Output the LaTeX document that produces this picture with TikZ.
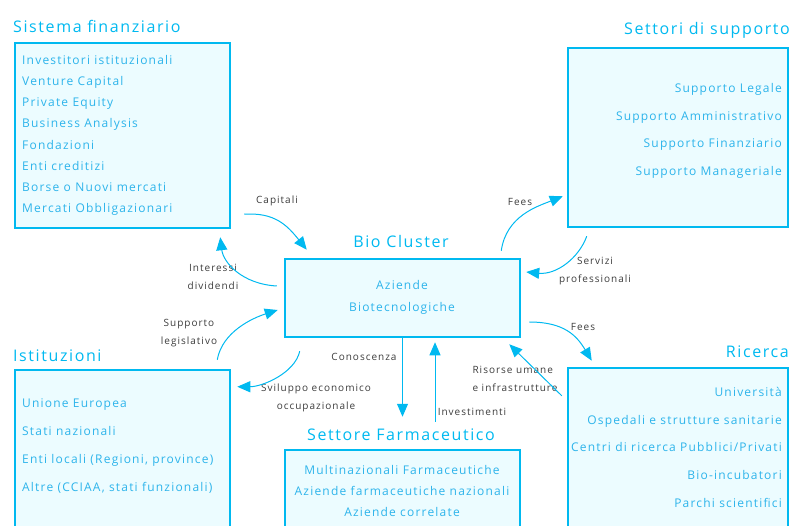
\documentclass[tikz,border=0pt]{standalone}
\usepackage{fontspec}
\setmainfont{Open Sans}[LetterSpace=10]
\usetikzlibrary{arrows.meta,calc}

\definecolor{clusterblue}{RGB}{0,185,240}
\definecolor{clusterfill}{RGB}{236,252,255}
\definecolor{itemblue}{RGB}{45,180,235}
\definecolor{labelgray}{RGB}{60,60,60}

\tikzset{
    box/.style={draw=clusterblue,line width=2.5pt,fill=clusterfill,rectangle,inner sep=0pt},
    boxtitle/.style={text=clusterblue,font=\fontsize{16}{19}\selectfont,inner sep=0pt},
    items/.style={text=itemblue,font=\fontsize{12}{#1}\selectfont,inner sep=0pt},
    items/.default=21,
    flowlabel/.style={text=labelgray,font=\fontsize{10}{18}\selectfont,align=center,inner sep=0pt},
    flow/.style={draw=clusterblue,line width=1pt,-{Triangle[length=13pt,width=11pt]}}
}

\begin{document}
\begin{tikzpicture}[x=1pt,y=-1pt]
    \useasboundingbox (0,0) rectangle (792,526);
    % boxes
    \node[box,minimum width=215pt,minimum height=185pt] (sf) at (122.5,135.5) {};
    \node[box,minimum width=220pt,minimum height=179pt] (ss) at (678,137.5) {};
    \node[box,minimum width=235pt,minimum height=78pt] (bc) at (402.5,298) {};
    \node[box,minimum width=215pt,minimum height=180pt] (ist) at (122.5,460) {};
    \node[box,minimum width=235pt,minimum height=100pt] (farm) at (402.5,500) {};
    \node[box,minimum width=220pt,minimum height=182pt] (ric) at (678,459) {};

    % titles
    \node[boxtitle,anchor=base west] (sfT) at (13,33) {Sistema finanziario};
    \node[boxtitle,anchor=base east] (ssT) at (790,35) {Settori di supporto};
    \node[boxtitle,anchor=base] (bcT) at (401,248) {Bio Cluster};
    \node[boxtitle,anchor=base west] (istT) at (13,361) {Istituzioni};
    \node[boxtitle,anchor=base] (farmT) at (401,440) {Settore Farmaceutico};
    \node[boxtitle,anchor=base east] (ricT) at (789,357) {Ricerca};

    % contents
    \node[items=21.2,anchor=north west,align=left] (sfL) at (22,55)
        {Investitori istituzionali\\Venture Capital\\Private Equity\\Business Analysis\\Fondazioni\\Enti creditizi\\Borse o Nuovi mercati\\Mercati Obbligazionari};
    \node[items=27.8,anchor=north east,align=right] (ssL) at (782,83)
        {Supporto Legale\\Supporto Amministrativo\\Supporto Finanziario\\Supporto Manageriale};
    \node[items=22,anchor=north,align=center] (bcL) at (402,280) {Aziende\\Biotecnologiche};
    \node[items=28,anchor=north west,align=left] (istL) at (22,398)
        {Unione Europea\\Stati nazionali\\Enti locali (Regioni, province)\\Altre (CCIAA, stati funzionali)};
    \node[items=21,anchor=north,align=center] (farmL) at (402,465)
        {Multinazionali Farmaceutiche\\Aziende farmaceutiche nazionali\\Aziende correlate};
    \node[items=27.7,anchor=north east,align=right] (ricL) at (782,387)
        {Università\\Ospedali e strutture sanitarie\\Centri di ricerca Pubblici/Privati\\Bio-incubatori\\Parchi scientifici};

    % flow labels
    \node[flowlabel] (capL) at (277,201) {Capitali};
    \node[flowlabel] (intL) at (213,277) {Interessi\\dividendi};
    \node[flowlabel] (supL) at (189,333) {Supporto\\legislativo};
    \node[flowlabel] (svL) at (316,398) {Sviluppo economico\\occupazionale};
    \node[flowlabel] (conL) at (364,357) {Conoscenza};
    \node[flowlabel] (invL) at (472,412) {Investimenti};
    \node[flowlabel,align=left] (risL) at (515,379) {Risorse umane\\e infrastrutture};
    \node[flowlabel] (feesR) at (583,327) {Fees};
    \node[flowlabel] (feesS) at (520,202) {Fees};
    \node[flowlabel] (serL) at (595,271) {Servizi\\professionali};

    % flows
    \draw[flow] ($(sf.south east)+(13,-15)$) .. controls +(30,-2) and +(-20,-25) .. ($(bc.north west)+(23,-8)$);
    \draw[flow] ($(bc.west)+(-7,-12)$) .. controls +(-35,-2) and +(3,25) .. ($(sf.south east)+(-11,8)$);
    \draw[flow] ($(ist.north east)+(-14,-9)$) .. controls +(5,-28) and +(-25,8) .. ($(bc.west)+(-6,12)$);
    \draw[flow] ($(bc.south west)+(16,13)$) .. controls +(-5,22) and +(25,0) .. ($(ist.north east)+(6,18)$);
    \draw[flow] (bc.south) -- ($(farm.north)+(0,-32)$);
    \draw[flow] ($(farm.north)+(32.5,-27)$) -- ($(bc.south)+(32.5,4)$);
    \draw[flow] ($(ric.north west)+(-5,29)$) -- ($(bc.south east)+(-12,6)$);
    \draw[flow] ($(bc.east)+(8,24)$) .. controls +(35,0) and +(-15,-25) .. ($(ric.north west)+(25,-6)$);
    \draw[flow] ($(bc.north east)+(-20,-7)$) .. controls +(5,-35) and +(-25,10) .. ($(ss.south west)+(-4,-32)$);
    \draw[flow] ($(ss.south west)+(20,8)$) .. controls +(-8,22) and +(30,3) .. ($(bc.east)+(5,-26)$);
\end{tikzpicture}
\end{document}
